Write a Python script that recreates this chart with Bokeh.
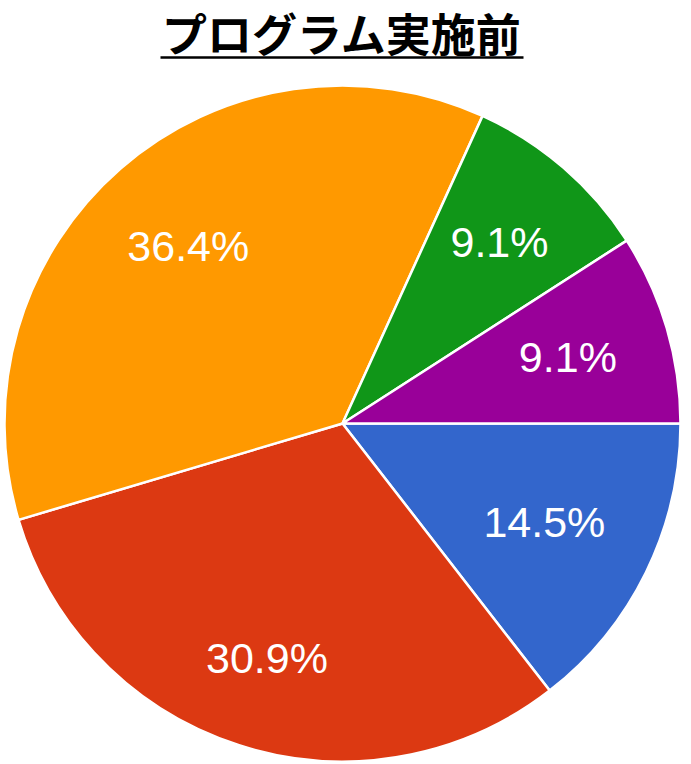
import math
from bokeh.plotting import figure
from bokeh.models import Range1d, ColumnDataSource
from bokeh.core.properties import value
from bokeh.embed import file_html
from bokeh.resources import INLINE

# ---- data ----
title_text = "プログラム実施前"
labels = ["14.5%", "30.9%", "36.4%", "9.1%", "9.1%"]
shares = [14.5, 30.9, 36.4, 9.1, 9.1]
colors = ["#3366CC", "#DC3912", "#FF9900", "#109618", "#990099"]

# ---- layout ----
W, H = 691, 764
cx, cy = 342, H - 423
R = 338
label_factor = [0.665, 0.73, 0.695, 0.71, 0.695]

p = figure(width=W, height=H, output_backend="svg", toolbar_location=None,
           x_range=Range1d(0, W), y_range=Range1d(0, H), min_border=0)
p.axis.visible = False
p.grid.visible = False
p.outline_line_color = None
p.background_fill_color = "white"
p.border_fill_color = "white"

total = sum(shares)
starts, ends, lx, ly = [], [], [], []
cum = 0.0
for s, f in zip(shares, label_factor):
    a0 = -cum / total * 2 * math.pi
    cum += s
    a1 = -cum / total * 2 * math.pi
    starts.append(a0)
    ends.append(a1)
    mid = (a0 + a1) / 2
    lx.append(cx + f * R * math.cos(mid))
    ly.append(cy + f * R * math.sin(mid))

src = ColumnDataSource(dict(start=starts, end=ends, color=colors,
                            lx=lx, ly=ly, label=labels))
p.wedge(x=cx, y=cy, radius=R, start_angle="start", end_angle="end",
        direction="clock", fill_color="color", line_color="white",
        line_width=2.5, source=src)
p.text(x="lx", y="ly", text="label", source=src, text_color="white",
       text_font=value("Liberation Sans"), text_font_size="43px",
       text_align="center", text_baseline="middle")

# title with underline
p.text(x=[341.5], y=[H - 32], text=[title_text], text_color="black",
       text_font=value("Noto Sans CJK JP"), text_font_size="45px",
       text_font_style="bold", text_align="center", text_baseline="middle")
p.segment(x0=[160], y0=[H - 57], x1=[523], y1=[H - 57], line_color="black",
          line_width=2.5)

open("out.html", "w").write(file_html(p, INLINE))
